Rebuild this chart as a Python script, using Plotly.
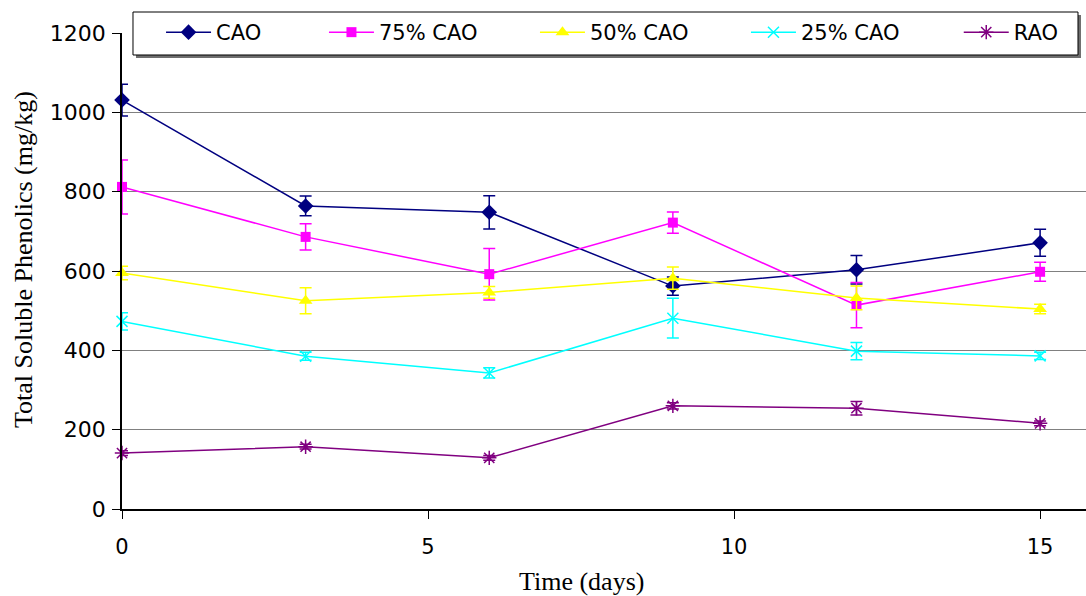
import plotly.graph_objects as go

# Sampling days
days = [0, 3, 6, 9, 12, 15]

# Total soluble phenolics (mg/kg) and their error bars
cao = [1031, 764, 748, 562, 603, 671]
cao_err = [40, 25, 42, 23, 36, 34]

cao75 = [812, 686, 592, 722, 514, 598]
cao75_err = [68, 33, 65, 27, 57, 24]

cao50 = [595, 525, 546, 582, 532, 504]
cao50_err = [17, 33, 15, 28, 30, 12]

cao25 = [473, 385, 343, 481, 398, 386]
cao25_err = [22, 10, 13, 50, 22, 9]

rao = [141, 157, 129, 260, 254, 216]
rao_err = [6, 6, 6, 8, 17, 6]

series = [
    ("CAO", cao, cao_err, "#000080", "diamond", 12, 0, "legend"),
    ("75% CAO", cao75, cao75_err, "#FF00FF", "square", 10, 0, "legend2"),
    ("50% CAO", cao50, cao50_err, "#FFFF00", "triangle-up", 12, 0, "legend2"),
    ("25% CAO", cao25, cao25_err, "#00FFFF", "x-thin-open", 11, 1.5, "legend2"),
    ("RAO", rao, rao_err, "#800080", "asterisk-open", 12, 1.5, "legend3"),
]

fig = go.Figure()
for name, vals, errs, color, symbol, size, mlw, leg in series:
    fig.add_trace(go.Scatter(
        x=days, y=vals, name=name, mode="lines+markers",
        line=dict(color=color, width=1.5),
        marker=dict(symbol=symbol, size=size, color=color,
                    line=dict(color=color, width=mlw)),
        error_y=dict(type="data", array=errs, visible=True,
                     color=color, thickness=1.5, width=6),
        cliponaxis=False,
        legend=leg,
    ))

tick_font = dict(family="DejaVu Sans", size=22, color="black")
title_font = dict(family="Liberation Serif, Times New Roman", size=26, color="black")
legend_font = dict(family="DejaVu Sans", size=21, color="black")

# Legend frame with a drop shadow, across the top of the chart
box = dict(x0=0.0114, x1=0.9917, y0=0.9008, y1=0.9861)
fig.add_shape(type="rect", xref="paper", yref="paper", layer="above",
              x0=box["x0"] + 0.0031, x1=box["x1"] + 0.0031,
              y0=box["y0"] - 0.006, y1=box["y1"] - 0.006,
              fillcolor="#6e6e6e", line=dict(width=0))
fig.add_shape(type="rect", xref="paper", yref="paper", layer="above",
              x0=box["x0"], x1=box["x1"], y0=box["y0"], y1=box["y1"],
              fillcolor="white", line=dict(color="black", width=1))

# Axis titles
fig.add_annotation(
    text="Time (days)", x=7.5, xref="x", y=-0.1448, yref="paper",
    xanchor="center", yanchor="middle", showarrow=False, font=title_font,
)
fig.add_annotation(
    text="Total Soluble Phenolics (mg/kg)", textangle=-90,
    x=-0.1027, xref="paper", y=0.496, yref="paper",
    xanchor="center", yanchor="middle", showarrow=False, font=title_font,
)

leg_common = dict(orientation="h", y=0.9861, xanchor="left", yanchor="top",
                  bgcolor="rgba(0,0,0,0)", borderwidth=0, font=legend_font,
                  itemwidth=45)

fig.update_layout(
    width=1086, height=596,
    margin=dict(l=122, r=0, t=5, b=87, autoexpand=False),
    paper_bgcolor="white", plot_bgcolor="white",
    font=dict(family="DejaVu Sans", color="black", size=22),
    showlegend=True,
    legend=dict(x=0.0405, **leg_common),
    legend2=dict(x=0.2095, entrywidth=151, entrywidthmode="pixels", **leg_common),
    legend3=dict(x=0.868, **leg_common),
    xaxis=dict(
        range=[0, 15.75], dtick=5, tick0=0,
        showline=True, linecolor="black", linewidth=1.5,
        ticks="outside", ticklen=8, tickcolor="black",
        tickfont=dict(family="DejaVu Sans", size=21, color="black"),
        ticklabelstandoff=10,
        showgrid=False, zeroline=False,
    ),
    yaxis=dict(
        domain=[0, 0.94444],
        range=[0, 1200], dtick=200, tick0=0,
        showline=True, linecolor="black", linewidth=1.5,
        ticks="outside", ticklen=8, tickcolor="black",
        tickfont=tick_font, ticklabelstandoff=2,
        showgrid=True, gridcolor="#808080", gridwidth=1,
        zeroline=False,
    ),
)

fig.write_html("out.html")
